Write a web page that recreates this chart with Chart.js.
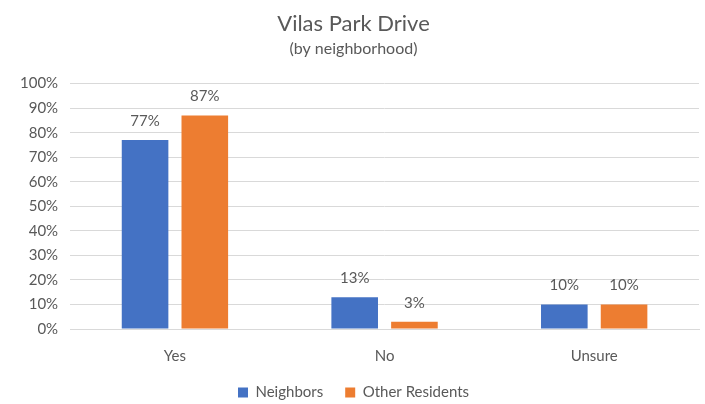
<!DOCTYPE html>
<html>
<head>
<meta charset="utf-8">
<script src="https://cdn.jsdelivr.net/npm/chart.js@4/dist/chart.umd.min.js"></script>
<style>
  html, body { margin: 0; padding: 0; background: #fff; }
  #wrap { width: 705px; height: 404px; position: relative; }
</style>
</head>
<body>
<div id="wrap"><canvas id="chart"></canvas></div>
<script>
/* ── 데이터 ── */
const categories     = ['Yes', 'No', 'Unsure'];
const neighbors      = [77, 13, 10];
const otherResidents = [87, 3, 10];

const C = {
  blue  : '#4472c4',
  orange: '#ed7d31',
  text  : '#595959',
  grid  : '#d9d9d9',
};
const FONT = 'Lato, "Open Sans", sans-serif';

/* 막대 위 값 라벨 */
const valueLabels = {
  id: 'valueLabels',
  afterDatasetsDraw(chart) {
    const ctx = chart.ctx;
    ctx.save();
    ctx.fillStyle = C.text;
    ctx.font = '15px ' + FONT;
    ctx.textAlign = 'center';
    ctx.textBaseline = 'middle';
    chart.data.datasets.forEach((ds, di) => {
      chart.getDatasetMeta(di).data.forEach((bar, i) => {
        ctx.fillText(ds.data[i] + '%', bar.x, bar.y - 19);
      });
    });
    ctx.restore();
  }
};

new Chart(document.getElementById('chart'), {
  type: 'bar',
  data: {
    labels: categories,
    datasets: [
      { label: 'Neighbors',       data: neighbors,      backgroundColor: C.blue },
      { label: 'Other Residents', data: otherResidents, backgroundColor: C.orange },
    ],
  },
  options: {
    responsive: true,
    maintainAspectRatio: false,
    animation: false,
    categoryPercentage: 0.57,
    barPercentage: 0.78,
    layout: { padding: { left: 8, right: 6, top: 6, bottom: -6 } },
    plugins: {
      title: {
        display: true,
        text: 'Vilas Park Drive',
        color: C.text,
        font: { family: FONT, size: 22, weight: 'normal' },
        padding: { top: 5, bottom: 0 },
      },
      subtitle: {
        display: true,
        text: '(by neighborhood)',
        color: C.text,
        font: { family: FONT, size: 16, weight: 'normal' },
        padding: { top: 2, bottom: 25 },
      },
      legend: {
        position: 'bottom',
        labels: {
          color: C.text,
          font: { family: FONT, size: 15 },
          boxWidth: 10,
          boxHeight: 10,
          padding: 22,
        },
      },
      tooltip: { enabled: false },
    },
    scales: {
      x: {
        grid: { display: false, tickLength: 20 },
        border: { color: C.grid },
        ticks: { color: C.text, font: { family: FONT, size: 15, lineHeight: 0.93 }, padding: 0 },
      },
      y: {
        min: 0,
        max: 100,
        ticks: {
          stepSize: 10,
          color: C.text,
          font: { family: FONT, size: 15 },
          padding: 12,
          callback: v => v + '%',
        },
        grid: { color: C.grid, drawTicks: false },
        border: { display: false },
      },
    },
  },
  plugins: [valueLabels],
});
</script>
</body>
</html>
